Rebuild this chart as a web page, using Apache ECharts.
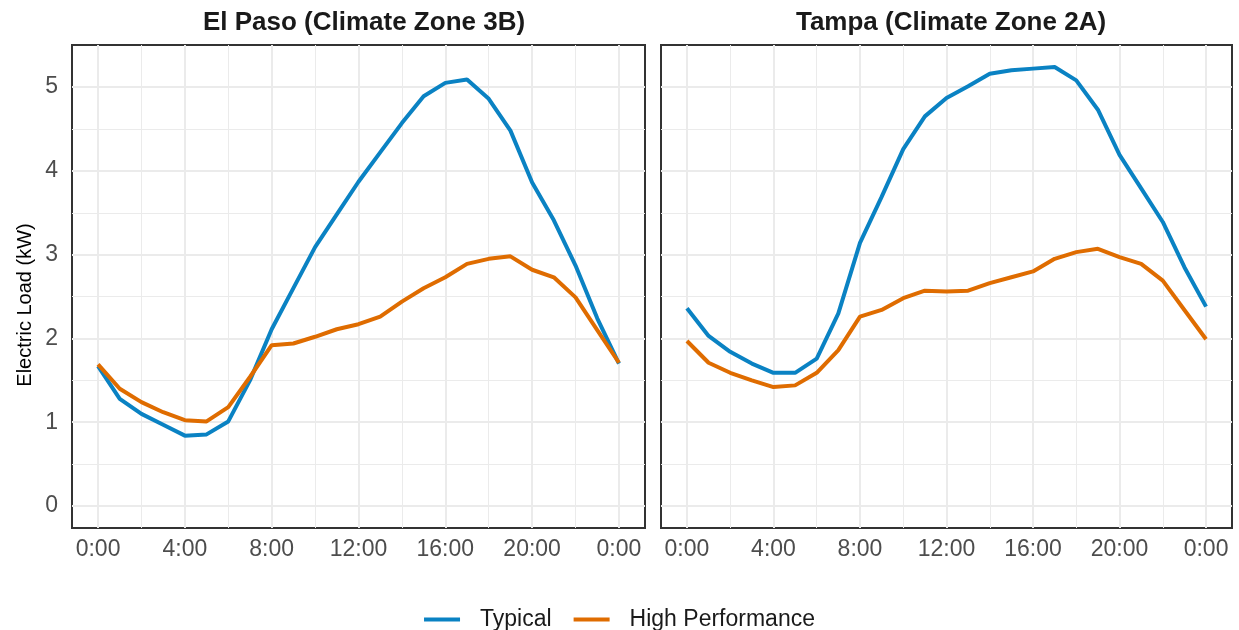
<!DOCTYPE html>
<html>
<head>
<meta charset="utf-8">
<script src="https://cdn.jsdelivr.net/npm/echarts@6/dist/echarts.min.js"></script>
<style>
html,body{margin:0;padding:0;background:#fff;}
#chart{width:1239px;height:630px;}
</style>
</head>
<body>
<div id="chart"></div>
<script>
// ---- data ----
const hours = [0,1,2,3,4,5,6,7,8,9,10,11,12,13,14,15,16,17,18,19,20,21,22,23,24];
const xTickValues = [0,4,8,12,16,20,24];
const xTickLabels = ['0:00','4:00','8:00','12:00','16:00','20:00','0:00'];
const yTickValues = [0,1,2,3,4,5];
const yTickLabels = ['0','1','2','3','4','5'];
const xMinorValues = [2,6,10,14,18,22];
const yMinorValues = [0.5,1.5,2.5,3.5,4.5];
const panelTitles = ['El Paso (Climate Zone 3B)','Tampa (Climate Zone 2A)'];
const yAxisTitle = 'Electric Load (kW)';
const seriesNames = ['Typical','High Performance'];
const elPasoTypical = [1.67,1.28,1.10,0.97,0.84,0.855,1.01,1.50,2.11,2.60,3.09,3.48,3.87,4.22,4.57,4.89,5.05,5.09,4.86,4.48,3.86,3.41,2.87,2.24,1.70];
const elPasoHigh    = [1.69,1.40,1.24,1.12,1.025,1.01,1.18,1.54,1.92,1.94,2.02,2.11,2.17,2.26,2.44,2.60,2.73,2.89,2.95,2.98,2.82,2.73,2.49,2.10,1.71];
const tampaTypical  = [2.36,2.03,1.84,1.70,1.59,1.59,1.76,2.30,3.14,3.69,4.26,4.65,4.87,5.01,5.16,5.20,5.22,5.24,5.08,4.73,4.19,3.79,3.39,2.85,2.38];
const tampaHigh     = [1.97,1.71,1.59,1.50,1.42,1.44,1.59,1.86,2.26,2.34,2.48,2.57,2.56,2.57,2.66,2.73,2.80,2.95,3.03,3.07,2.97,2.89,2.69,2.34,1.99];

// ---- styles ----
const COL_TYP = '#0A82C3';
const COL_HP = '#DF6C00';
const FONT = '"Liberation Sans", Arial, sans-serif';
const pair = arr => hours.map((h,i) => [h, arr[i]]);
const grids = [
  {left:72, top:45, width:573, height:483},
  {left:661, top:45, width:571, height:483}
];
const panelData = [[elPasoTypical, elPasoHigh],[tampaTypical, tampaHigh]];

const xAxes = [], yAxes = [], series = [];
grids.forEach((g, gi) => {
  xAxes.push({
    type:'value', gridIndex:gi, min:-1.2, max:25.2,
    axisLine:{show:false},
    splitLine:{show:false},
    axisTick:{show:true, customValues:xTickValues, length:6, lineStyle:{color:'#333333', width:2}},
    axisLabel:{show:true, customValues:xTickValues, margin:10, color:'#4D4D4D', fontSize:23, fontFamily:FONT,
      formatter: v => xTickLabels[xTickValues.indexOf(v)]}
  });
  yAxes.push({
    type:'value', gridIndex:gi, min:-0.262, max:5.502,
    axisLine:{show:false},
    splitLine:{show:false},
    axisTick:{show:gi===0, customValues:yTickValues, length:6, lineStyle:{color:'#333333', width:2}},
    axisLabel:{show:gi===0, customValues:yTickValues, margin:14, color:'#4D4D4D', fontSize:23, fontFamily:FONT,
      formatter: v => yTickLabels[yTickValues.indexOf(v)]}
  });
  // grid lines (minor then major)
  series.push({
    type:'line', xAxisIndex:gi, yAxisIndex:gi, data:[], silent:true, z:1,
    markLine:{silent:true, symbol:'none', label:{show:false}, z:1, animation:false,
      lineStyle:{color:'#EBEBEB', width:1, type:'solid'},
      emphasis:{disabled:true},
      data: xMinorValues.map(v=>({xAxis:v})).concat(yMinorValues.map(v=>({yAxis:v})))}
  });
  series.push({
    type:'line', xAxisIndex:gi, yAxisIndex:gi, data:[], silent:true, z:1,
    markLine:{silent:true, symbol:'none', label:{show:false}, z:1, animation:false,
      lineStyle:{color:'#EBEBEB', width:2, type:'solid'},
      emphasis:{disabled:true},
      data: xTickValues.map(v=>({xAxis:v})).concat(yTickValues.map(v=>({yAxis:v})))}
  });
  series.push({
    name:seriesNames[0], type:'line', xAxisIndex:gi, yAxisIndex:gi, data:pair(panelData[gi][0]),
    symbol:'none', lineStyle:{color:COL_TYP, width:4}, itemStyle:{color:COL_TYP}, z:3, animation:false
  });
  series.push({
    name:seriesNames[1], type:'line', xAxisIndex:gi, yAxisIndex:gi, data:pair(panelData[gi][1]),
    symbol:'none', lineStyle:{color:COL_HP, width:4}, itemStyle:{color:COL_HP}, z:4, animation:false
  });
});

const chart = echarts.init(document.getElementById('chart'), null, {renderer:'canvas'});
chart.setOption({
  backgroundColor:'#fff',
  animation:false,
  title: [
    {text:panelTitles[0], left:359, top:5, textAlign:'center', textStyle:{fontSize:26, fontWeight:'bold', color:'#1A1A1A', fontFamily:FONT}},
    {text:panelTitles[1], left:946, top:5, textAlign:'center', textStyle:{fontSize:26, fontWeight:'bold', color:'#1A1A1A', fontFamily:FONT}}
  ],
  graphic: [{
    type:'text', x:25, y:305, rotation:Math.PI/2,
    style:{text:yAxisTitle, fill:'#000', font:'20px ' + FONT, textAlign:'center', textVerticalAlign:'middle'}
  }],
  legend:{
    data:seriesNames.map(n=>({name:n, icon:'rect'})),
    left:'center', top:603, itemWidth:36, itemHeight:4, itemGap:22,
    textStyle:{fontSize:23, color:'#1A1A1A', fontFamily:FONT, padding:[0,0,0,15]},
    selectedMode:false
  },
  grid: grids.map(g=>Object.assign({show:true, borderColor:'#333333', borderWidth:2, backgroundColor:'transparent', containLabel:false}, g)),
  xAxis:xAxes,
  yAxis:yAxes,
  series:series
});
</script>
</body>
</html>
